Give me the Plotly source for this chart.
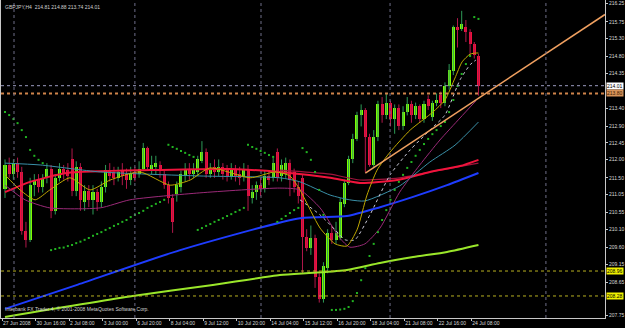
import plotly.graph_objects as go

# ---------------- data ----------------
opens = [211.20,211.85,211.60,211.90,211.65,210.05,209.80,211.30,211.45,211.25,
         211.50,211.75,210.60,211.50,211.75,211.70,212.00,211.15,211.80,210.85,
         211.15,210.90,211.10,210.85,211.25,211.70,211.65,211.50,211.70,211.60,
         211.45,211.65,211.60,211.75,212.30,211.75,211.80,211.85,211.60,211.30,
         210.95,211.05,211.25,211.55,211.75,211.60,211.65,211.95,212.20,211.60,
         211.80,211.65,211.80,211.70,211.55,211.70,211.60,211.55,211.75,210.95,
         211.10,211.30,211.20,211.55,211.50,212.20,211.55,211.60,211.90,211.65,
         211.25,211.50,209.90,209.60,209.85,208.80,208.20,209.05,210.00,209.80,
         209.85,210.80,211.35,212.00,212.55,213.20,213.35,212.60,211.85,212.60,
         213.50,213.20,213.55,213.10,213.40,212.90,213.30,213.50,213.20,213.45,
         213.10,213.65,213.15,213.55,213.75,213.55,214.00,214.40,215.60,215.55,
         215.60,215.48,215.15,214.81]
highs = [212.00,212.05,212.00,212.05,211.80,210.30,211.50,211.60,211.60,211.60,
         211.90,211.85,211.60,211.90,211.85,211.90,212.30,211.95,211.90,211.30,
         211.30,211.30,211.20,211.40,211.85,211.90,211.80,211.80,211.90,211.75,
         211.80,211.80,211.95,212.45,212.35,212.10,212.10,211.95,211.70,211.40,
         211.05,211.40,211.70,211.90,211.90,211.90,212.10,212.50,212.30,211.90,
         212.00,212.00,211.90,211.85,211.90,211.85,211.80,211.90,211.85,211.30,
         211.40,211.50,211.70,211.70,212.05,212.30,212.00,212.05,212.00,211.75,
         211.40,211.60,210.10,210.20,209.95,208.90,209.20,210.10,210.20,210.30,
         210.95,211.45,212.10,212.70,213.30,213.50,213.40,212.70,212.80,213.60,
         213.70,213.80,213.60,213.50,213.50,213.45,213.70,213.60,213.55,213.50,
         213.60,213.75,213.60,213.80,213.85,214.10,214.60,215.65,215.85,216.05,
         215.80,215.55,215.20,214.88]
lows = [210.95,211.50,211.45,211.50,209.95,209.60,209.75,211.00,211.10,211.10,
        211.35,210.40,210.50,211.40,211.45,211.40,211.00,211.00,210.60,210.60,
        210.70,210.50,210.60,210.70,211.10,211.40,211.30,211.40,211.30,211.20,
        211.30,211.40,211.50,211.70,211.70,211.60,211.60,211.50,211.20,210.80,
        210.00,210.85,211.10,211.40,211.45,211.50,211.55,211.90,211.50,211.50,
        211.50,211.55,211.45,211.40,211.45,211.40,211.30,211.40,210.60,210.80,
        210.90,211.00,211.10,211.30,211.40,211.40,211.40,211.50,211.00,211.10,
        210.80,208.90,209.50,209.40,208.50,208.10,208.10,208.90,209.70,209.70,
        209.80,210.70,211.30,211.90,212.50,212.90,211.65,211.80,211.80,212.50,
        213.00,213.10,212.90,212.70,212.80,212.80,213.20,213.00,213.10,213.00,
        213.00,213.35,213.05,213.45,213.40,213.45,213.90,214.30,215.05,215.50,
        215.20,214.85,214.75,213.74]
closes = [211.85,211.60,211.90,211.65,210.05,209.80,211.30,211.45,211.25,211.50,
          211.75,210.60,211.50,211.75,211.60,211.55,211.15,211.80,210.90,211.15,
          210.90,211.10,210.85,211.25,211.70,211.55,211.50,211.65,211.55,211.45,
          211.60,211.50,211.75,212.30,211.80,211.85,211.90,211.70,211.30,210.95,
          210.30,211.30,211.60,211.70,211.60,211.70,212.00,212.20,211.60,211.75,
          211.65,211.80,211.60,211.55,211.70,211.55,211.50,211.75,211.00,211.10,
          211.30,211.20,211.55,211.45,211.90,211.50,211.85,211.90,211.45,211.25,
          211.00,209.90,209.60,209.85,208.80,208.20,209.10,210.00,209.80,210.00,
          210.85,211.35,212.00,212.55,213.20,213.35,212.60,211.85,212.60,213.50,
          213.20,213.55,213.10,213.40,212.90,213.30,213.50,213.20,213.45,213.10,
          213.50,213.45,213.55,213.62,213.55,214.00,214.45,215.60,215.55,215.70,
          215.48,215.15,214.85,214.01]
bar_index = list(range(len(closes)))

x_tick_bars = [-0.7, 7.3, 15.3, 23.3, 31.3, 39.3, 47.3, 55.3, 63.3, 71.3, 79.3, 87.3, 95.3, 103.3, 111.3]
x_tick_text = ["27 Jun 2008", "30 Jun 16:00", "2 Jul 08:00", "3 Jul 00:00", "6 Jul 20:00",
               "8 Jul 04:00", "9 Jul 12:00", "10 Jul 20:00", "14 Jul 04:00", "15 Jul 12:00",
               "16 Jul 20:00", "18 Jul 04:00", "21 Jul 08:00", "22 Jul 16:00", "24 Jul 08:00"]
y_tick_vals = [216.25, 215.75, 215.30, 214.80, 214.35, 213.40, 212.90, 212.45, 212.00,
               211.50, 211.05, 210.55, 210.10, 209.60, 209.15, 208.65, 207.75]
y_tick_text = ["216.25", "215.75", "215.30", "214.80", "214.35", "213.40", "212.90", "212.45",
               "212.00", "211.50", "211.05", "210.55", "210.10", "209.60", "209.15", "208.65", "207.75"]

separator_bars = [2.15, 31.0, 61.1, 91.9, 129.1]

# indicator lines (sampled along the chart)
ma_blue_bars = [0, 17.4, 41.8, 70.4, 81.6, 89.5, 97.4, 105.5, 113]
ma_blue_vals = [207.93, 208.59, 209.53, 210.40, 210.46, 210.70, 210.98, 211.30, 211.63]
ma_lime_bars = [0, 30.5, 49.6, 65.6, 73.5, 81.6, 89.5, 97.4, 105.5, 113]
ma_lime_vals = [207.71, 208.28, 208.58, 208.85, 208.91, 208.99, 209.18, 209.34, 209.48, 209.67]
ma_red_bars = [0, 6, 14.8, 34.6, 53.7, 65.6, 77.6, 84.7, 93.6, 101.4, 108.6, 113]
ma_red_vals = [211.11, 211.39, 211.63, 211.71, 211.74, 211.66, 211.50, 211.36, 211.44, 211.66, 211.82, 211.99]
ma_dred_bars = [65.6, 77.6, 84.7, 94.2, 103.8, 113]
ma_dred_vals = [211.71, 211.60, 211.44, 211.50, 211.71, 211.90]
ma_teal_bars = [0, 8.4, 22.7, 46.5, 65.6, 70.4, 77.6, 82.3, 85.9, 94.2, 101.4, 107.4, 113]
ma_teal_vals = [211.90, 211.85, 211.66, 211.55, 211.50, 211.39, 211.03, 210.90, 210.87, 211.28, 211.93, 212.39, 213.02]
ma_yel_bars = [0, 3.6, 7.2, 10.7, 15.5, 20.3, 25.1, 32.2, 39.4, 44.2, 48.9, 58.5, 64.4, 68.0, 70.4,
               75.2, 78.8, 81.6, 84.0, 86.4, 88.8, 91.9, 96.7, 102.1, 105.0, 107.4, 109.1, 111.0, 112.4, 113]
ma_yel_vals = [211.58, 211.17, 210.90, 211.17, 211.50, 211.17, 211.44, 211.66, 211.30, 211.44, 211.77,
               211.50, 211.66, 211.55, 211.17, 210.13, 209.70, 209.64, 210.08, 211.03, 211.71, 212.20,
               212.80, 213.29, 213.62, 214.22, 214.66, 214.87, 214.90, 214.90]
ma_mag_bars = [0, 4.8, 10.7, 22.7, 29.8, 46.5, 65.6, 70.4, 75.2, 79.9, 82.3, 85.9, 89.5, 94.2, 99.0, 103.8, 108.6, 112.4]
ma_mag_vals = [211.30, 210.90, 210.68, 210.68, 210.90, 211.09, 211.22, 211.17, 210.68, 209.86, 209.61,
               209.70, 210.13, 211.11, 211.85, 212.53, 213.13, 213.60]
env_bars = [70.4, 75.2, 78.8, 81.2, 83.5, 87.1, 91.9, 96.7, 101.4, 105.0, 108.6, 111.0, 112.4]
env_vals = [210.90, 210.49, 210.08, 209.81, 209.81, 210.49, 211.58, 212.26, 212.80, 213.21, 214.17, 214.58, 214.71]

# parabolic SAR dots
sar_bars = [0, 1, 2, 3, 4, 5, 6, 7, 8, 9,
            11, 12, 13, 14, 15, 16, 17, 18, 19, 20, 21, 22, 23, 24, 25, 26, 27, 28, 29, 30,
            31, 32, 33, 34, 35, 36, 37, 38,
            39, 40, 41, 42, 43, 44, 45,
            46, 47, 48, 49, 50, 51, 52, 53, 54, 55, 56, 57,
            58, 59, 60, 61, 62, 63, 64,
            65, 66, 67, 68, 69, 70,
            71, 72, 73, 74, 75, 76,
            78, 79, 80, 81, 82, 83, 84, 85, 86, 87, 88, 89, 90, 91, 92, 93, 94, 95, 96, 97,
            98, 99, 100, 101, 102, 103, 104, 105, 106, 107, 108, 109, 110, 111,
            112, 113]
sar_vals = [213.29, 213.21, 213.10, 212.99, 212.80, 212.61, 212.26, 212.10, 211.99, 211.90,
            209.53, 209.56, 209.59, 209.60, 209.64, 209.67, 209.72, 209.76, 209.81, 209.86,
            209.92, 209.97, 210.02, 210.08, 210.13, 210.19, 210.24, 210.30, 210.35, 210.43,
            210.49, 210.54, 210.60, 210.68, 210.73, 210.79, 210.84, 210.90,
            212.40, 212.34, 212.29, 212.23, 212.18, 212.12, 212.07,
            210.08, 210.13, 210.19, 210.24, 210.30, 210.35, 210.40, 210.46, 210.51, 210.57, 210.62, 210.68,
            212.40, 212.34, 212.29, 212.23, 212.18, 212.12, 212.07,
            210.30, 210.38, 210.46, 210.54, 210.62, 210.68,
            212.31, 212.20, 211.99, 211.66, 211.17, 210.49,
            207.90, 207.90, 207.91, 207.93, 207.98, 208.14, 208.36, 208.71, 209.04, 209.37,
            209.70, 210.02, 210.35, 210.62, 210.90, 211.17, 211.39, 211.58, 211.77, 211.93,
            212.10, 212.26, 212.42, 212.56, 212.69, 212.80, 212.91, 213.02, 213.29, 213.62,
            214.00, 214.33, 214.60, 214.82,
            215.88, 215.83]

bid_price = 214.01
stop_price = 213.80
support_prices = [208.96, 208.28]
trend_bars = [86.0, 143.2]
trend_vals = [211.63, 215.95]

FONT = "Liberation Sans"
FS = 5

# ---------------- figure ----------------
fig = go.Figure()

up_w_x, up_w_y, dn_w_x, dn_w_y = [], [], [], []
up_x, up_base, up_h, dn_x, dn_base, dn_h = [], [], [], [], [], []
for b, o, h, l, c in zip(bar_index, opens, highs, lows, closes):
    body = max(abs(c - o), 0.02)
    if c >= o:
        up_w_x += [b, b, None]; up_w_y += [l, h, None]
        up_x.append(b); up_base.append(min(o, c)); up_h.append(body)
    else:
        dn_w_x += [b, b, None]; dn_w_y += [l, h, None]
        dn_x.append(b); dn_base.append(min(o, c)); dn_h.append(body)

fig.add_trace(go.Scatter(x=up_w_x, y=up_w_y, mode="lines", line=dict(color="#2E9B57", width=1),
                         hoverinfo="skip"))
fig.add_trace(go.Scatter(x=dn_w_x, y=dn_w_y, mode="lines", line=dict(color="#B0184A", width=1),
                         hoverinfo="skip"))
fig.add_trace(go.Bar(x=up_x, y=up_h, base=up_base, width=0.72, marker=dict(color="#7CFC00", line=dict(width=0)),
                     hoverinfo="skip"))
fig.add_trace(go.Bar(x=dn_x, y=dn_h, base=dn_base, width=0.72, marker=dict(color="#F0103C", line=dict(width=0)),
                     hoverinfo="skip"))

def add_line(xs, ys, color, width, dash="solid"):
    fig.add_trace(go.Scatter(x=xs, y=ys, mode="lines", line=dict(color=color, width=width, dash=dash, shape="spline", smoothing=0.6),
                             hoverinfo="skip"))

add_line(ma_lime_bars, ma_lime_vals, "#9AE62A", 2)
add_line(ma_blue_bars, ma_blue_vals, "#1E3CFF", 2)
add_line(ma_dred_bars, ma_dred_vals, "#A0143C", 1.2)
add_line(ma_red_bars, ma_red_vals, "#F0143C", 2)
add_line(ma_teal_bars, ma_teal_vals, "#3A90A8", 1)
add_line(ma_mag_bars, ma_mag_vals, "#9B2A78", 1)
add_line(env_bars, env_vals, "#C8C8D8", 1, "dot")
add_line(ma_yel_bars, ma_yel_vals, "#C0A800", 1)

fig.add_trace(go.Scatter(x=sar_bars, y=sar_vals, mode="markers",
                         marker=dict(symbol="square", size=2, color="#22B422", line=dict(width=0)),
                         hoverinfo="skip"))

# horizontal levels
fig.add_hline(y=bid_price, line=dict(color="#9C9CC0", width=1, dash="dot"))
fig.add_hline(y=stop_price, line=dict(color="#D0844A", width=2, dash="dot"))
for p in support_prices:
    fig.add_hline(y=p, line=dict(color="#B8B020", width=1, dash="dot"))
for s in separator_bars:
    fig.add_vline(x=s, line=dict(color="#6E6E88", width=1, dash="dot"))

# trend line
fig.add_trace(go.Scatter(x=trend_bars, y=trend_vals, mode="lines", line=dict(color="#F0A060", width=1.5),
                         hoverinfo="skip", cliponaxis=True))

# price boxes
boxes = [(bid_price, "#FFFFFF", "#000000"), (stop_price, "#D8945A", "#402000"),
         (support_prices[0], "#F0F000", "#000000"), (support_prices[1], "#F0F000", "#000000")]
for p, bg, fg in boxes:
    fig.add_annotation(x=1, xref="paper", xanchor="left", xshift=1, y=p, yref="y",
                       text=f"{p:.2f}", showarrow=False, bgcolor=bg, borderpad=0,
                       font=dict(family=FONT, size=FS, color=fg))

fig.add_annotation(x=0, xref="paper", y=1, yref="paper", xanchor="left", yanchor="top", xshift=2, yshift=-2,
                   text="GBPJPY,H4  214.81 214.88 213.74 214.01", showarrow=False,
                   font=dict(family=FONT, size=FS, color="#D0D0D0"))
fig.add_annotation(x=0, xref="paper", y=0, yref="paper", xanchor="left", yanchor="bottom", xshift=2, yshift=4,
                   text="Interbank FX Trader 4, © 2001-2008 MetaQuotes Software Corp.", showarrow=False,
                   font=dict(family=FONT, size=FS, color="#D0D0D0"))

fig.update_layout(
    width=625, height=328, margin=dict(l=1, r=20, t=0, b=10, autoexpand=False),
    paper_bgcolor="#000000", plot_bgcolor="#000000",
    showlegend=False, barmode="overlay", bargap=0,
    xaxis=dict(range=[-0.955, 143.2], tickvals=x_tick_bars, ticktext=x_tick_text, tickangle=0,
               automargin=False, ticklabelstandoff=0,
               showgrid=False, zeroline=False, showline=True, linecolor="#C8C8C8", linewidth=1,
               ticks="outside", ticklen=2, tickcolor="#C8C8C8", ticklabelposition="outside right",
               tickfont=dict(family=FONT, size=FS, color="#D8D8D8")),
    yaxis=dict(range=[207.68, 216.345], side="right", tickvals=y_tick_vals, ticktext=y_tick_text,
               automargin=False, ticklabelstandoff=0,
               showgrid=False, zeroline=False, showline=True, mirror=True, linecolor="#C8C8C8", linewidth=1,
               ticks="outside", ticklen=2, tickcolor="#C8C8C8",
               tickfont=dict(family=FONT, size=FS, color="#D8D8D8")),
)

fig.write_html("out.html")
